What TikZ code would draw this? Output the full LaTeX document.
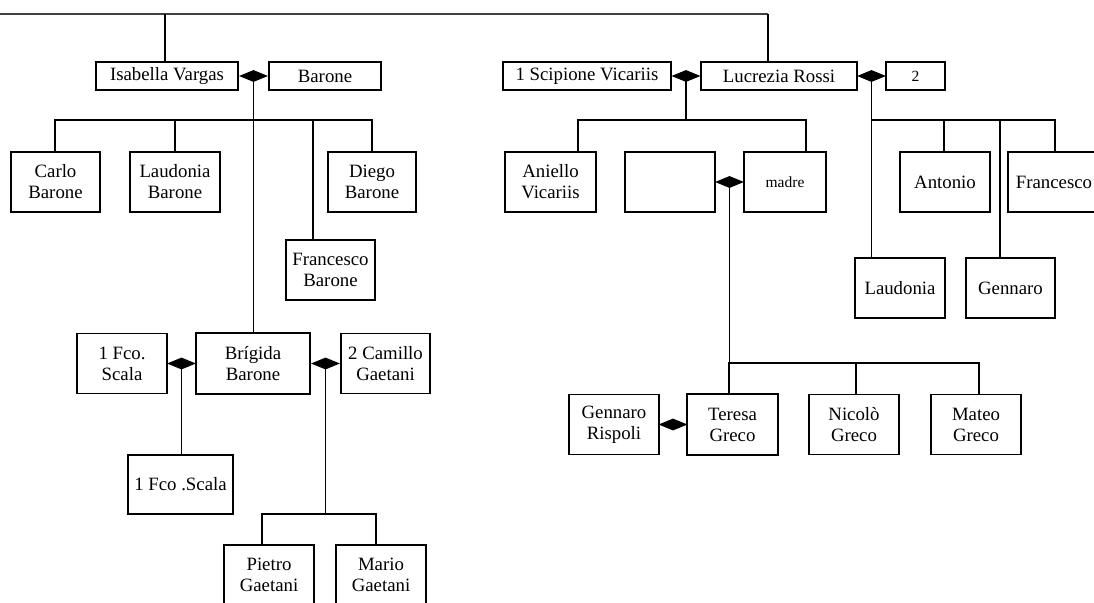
\documentclass[tikz,border=0pt]{standalone}
\usepackage{fontspec}
\setmainfont{Liberation Serif}
\usetikzlibrary{shapes.geometric,calc}
\begin{document}
\begin{tikzpicture}[x=1pt,y=-1pt,
  box/.style={draw=black, line width=1.2pt, inner sep=1pt, align=center,
    font=\fontsize{18.8pt}{21pt}\selectfont, text=black},
  small/.style={font=\fontsize{15.5pt}{17pt}\selectfont},
  dia/.style={diamond, fill=black, inner sep=0pt, minimum width=29pt, minimum height=12pt},
  link/.style={draw=black, line width=1.3pt},
  topline/.style={draw=black!75, line width=1.7pt}]
\useasboundingbox (0,0) rectangle (1094,602);

% ---- left family ----
\node[box, minimum width=142pt, minimum height=28pt] (iv) at (167,76) {Isabella Vargas};
\node[box, minimum width=112pt, minimum height=28pt] (bar) at (325,76) {Barone};
\node[box, minimum width=89pt, minimum height=60pt] (carlo) at (55.5,182) {Carlo\\Barone};
\node[box, minimum width=90pt, minimum height=60pt] (laud) at (175,182) {Laudonia\\Barone};
\node[box, minimum width=88pt, minimum height=60pt] (diego) at (372,182) {Diego\\Barone};
\node[box, minimum width=89pt, minimum height=60pt] (fran) at (330.5,270) {Francesco\\Barone};
\node[box, minimum width=90pt, minimum height=60pt] (fco1) at (122,363.5) {1 Fco.\\Scala};
\node[box, minimum width=114pt, minimum height=61pt] (brig) at (253,363.5) {Brígida\\Barone};
\node[box, minimum width=89pt, minimum height=60pt] (cam) at (385.5,363.5) {2 Camillo\\Gaetani};
\node[box, minimum width=105pt, minimum height=59pt] (fco2) at (180.5,484.5) {1 Fco .Scala};
\node[box, minimum width=90pt, minimum height=60pt] (pietro) at (269,575) {Pietro\\Gaetani};
\node[box, minimum width=90pt, minimum height=60pt] (mario) at (381,575) {Mario\\Gaetani};

% ---- right family ----
\node[box, minimum width=168pt, minimum height=28pt] (sv) at (587,76) {1 Scipione Vicariis};
\node[box, minimum width=156pt, minimum height=28pt] (lr) at (779,76) {Lucrezia Rossi};
\node[box, small, minimum width=59pt, minimum height=28pt] (two) at (915.5,76) {2};
\node[box, minimum width=91pt, minimum height=60pt] (aniello) at (550.5,182) {Aniello\\Vicariis};
\node[box, minimum width=90pt, minimum height=60pt] (empty) at (670,182) {};
\node[box, small, minimum width=82pt, minimum height=60pt] (madre) at (785,182) {madre};
\node[box, minimum width=90pt, minimum height=60pt] (gr) at (614,424.5) {Gennaro\\Rispoli};
\node[box, minimum width=91pt, minimum height=61pt] (tg) at (732.5,424.5) {Teresa\\Greco};
\node[box, minimum width=90pt, minimum height=60pt] (ng) at (854,424.5) {Nicolò\\Greco};
\node[box, minimum width=90pt, minimum height=60pt] (mg) at (976,424.5) {Mateo\\Greco};
\node[box, minimum width=90pt, minimum height=60pt] (ant) at (945,182) {Antonio};
\node[box, minimum width=92pt, minimum height=60pt] (fr2) at (1054,182) {Francesco};
\node[box, minimum width=90pt, minimum height=60pt] (laud2) at (900,288) {Laudonia};
\node[box, minimum width=89pt, minimum height=60pt] (gen) at (1010.5,288) {Gennaro};

% ---- marriage diamonds ----
\node[dia] (d1) at ($(iv.east)!0.5!(bar.west)$) {};
\node[dia] (d2) at ($(fco1.east)!0.5!(brig.west)$) {};
\node[dia] (d3) at ($(brig.east)!0.5!(cam.west)$) {};
\node[dia] (d4) at ($(sv.east)!0.5!(lr.west)$) {};
\node[dia] (d5) at ($(lr.east)!0.5!(two.west)$) {};
\node[dia] (d6) at ($(empty.east)!0.5!(madre.west)$) {};
\node[dia] (d7) at ($(gr.east)!0.5!(tg.west)$) {};

% ---- top line ----
\coordinate (tl) at (0,14);
\coordinate (tr) at (768,14);
\coordinate (tiv) at (165,14);
\draw[topline] (tl) -- (tr);
\draw[link] (tr) -- (tr |- lr.north);
\draw[link] (tiv) -- (tiv |- iv.north);

% ---- Isabella / Barone children ----
\coordinate (b1l) at (55,120);
\coordinate (b1r) at (372,120);
\coordinate (b1f) at (313,120);
\draw[link] (d1.center) -- (d1.center |- brig.north);
\draw[link] (b1l |- carlo.north) -- (b1l) -- (b1r) -- (b1r |- diego.north);
\draw[link] (laud.north) -- (laud.north |- b1l);
\draw[link] (b1f) -- (b1f |- fran.north);

% ---- Brigida children ----
\draw[link] (d2.center) -- (d2.center |- fco2.north);
\coordinate (b2l) at (262,514);
\coordinate (b2r) at (376,514);
\draw[link] (d3.center) -- (d3.center |- b2l);
\draw[link] (b2l |- pietro.north) -- (b2l) -- (b2r) -- (b2r |- mario.north);

% ---- Scipione / Lucrezia children ----
\coordinate (b3l) at (578,120);
\coordinate (b3r) at (806,120);
\draw[link] (d4.center) -- (d4.center |- b3l);
\draw[link] (b3l |- aniello.north) -- (b3l) -- (b3r) -- (b3r |- madre.north);

% ---- madre children ----
\coordinate (b4l) at (729,363);
\coordinate (b4m) at (856,363);
\coordinate (b4r) at (979,363);
\draw[link] (d6.center) -- (d6.center |- b4l);
\draw[link] (b4l |- tg.north) -- (b4l) -- (b4r) -- (b4r |- mg.north);
\draw[link] (b4m) -- (b4m |- ng.north);

% ---- Lucrezia / 2 children ----
\coordinate (b5r) at (1055,120);
\coordinate (b5a) at (944,120);
\coordinate (b5g) at (1000,120);
\draw[link] (d5.center) -- (d5.center |- laud2.north);
\draw[link] (d5.center |- b5r) -- (b5r) -- (b5r |- fr2.north);
\draw[link] (b5a) -- (b5a |- ant.north);
\draw[link] (b5g) -- (b5g |- gen.north);
\end{tikzpicture}
\end{document}
